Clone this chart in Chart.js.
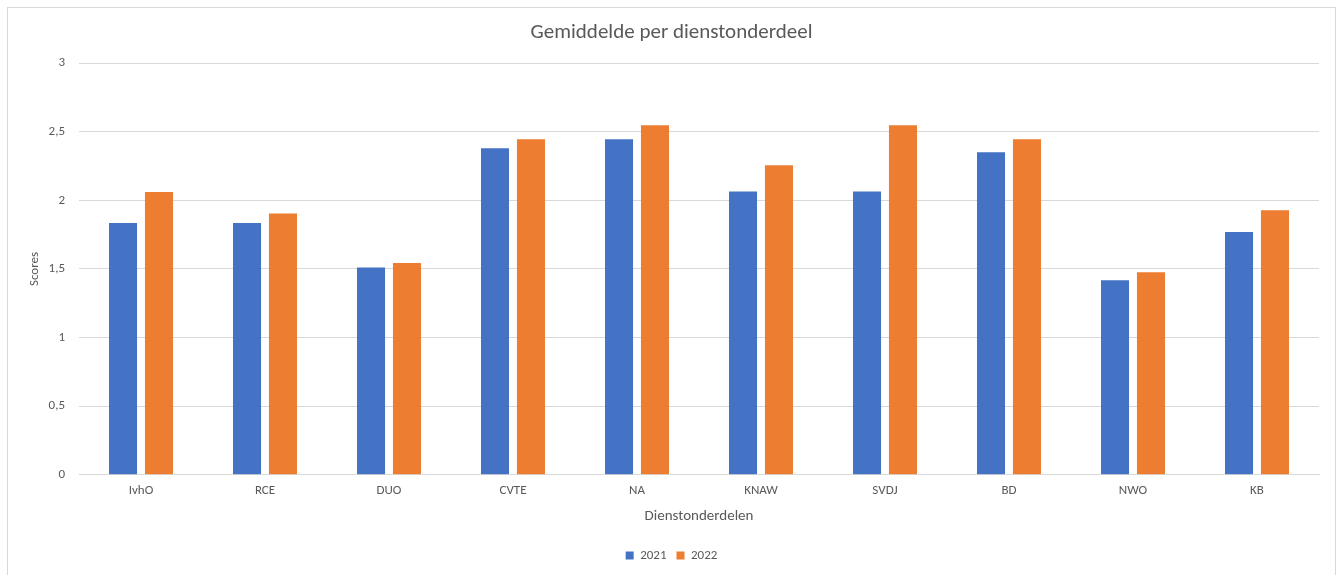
<!DOCTYPE html>
<html>
<head>
<meta charset="utf-8">
<script src="https://cdn.jsdelivr.net/npm/chart.js@4"></script>
<style>
  html, body { margin: 0; padding: 0; background: #ffffff; overflow: hidden; }
  #frame { position: absolute; left: 7px; top: 7px; width: 1327px; height: 580px; border: 1px solid #d9d9d9; border-bottom: none; }
  canvas { display: block; }
</style>
</head>
<body>
<div id="frame"><canvas id="c" width="1327" height="567" style="width:1327px;height:567px"></canvas></div>
<script>
const categories = ['IvhO', 'RCE', 'DUO', 'CVTE', 'NA', 'KNAW', 'SVDJ', 'BD', 'NWO', 'KB'];
const seriesNames = ['2021', '2022'];
const values2021 = [1.835, 1.835, 1.51, 2.38, 2.445, 2.064, 2.064, 2.35, 1.418, 1.77];
const values2022 = [2.061, 1.904, 1.544, 2.445, 2.547, 2.256, 2.547, 2.445, 1.476, 1.928];
const yTickValues = [0, 0.5, 1, 1.5, 2, 2.5, 3];
const yTickLabels = ['0', '0,5', '1', '1,5', '2', '2,5', '3'];
const titleText = 'Gemiddelde per dienstonderdeel';
const xTitle = 'Dienstonderdelen';
const yTitle = 'Scores';

const FONT = "Carlito, Lato, 'Liberation Sans', sans-serif";
const TXT = '#595959';
const GRID = '#d9d9d9';

Chart.defaults.font.family = FONT;
Chart.defaults.color = TXT;

new Chart(document.getElementById('c'), {
  type: 'bar',
  data: {
    labels: categories,
    datasets: [
      { label: seriesNames[0], data: values2021, backgroundColor: '#4472C4', borderWidth: 0 },
      { label: seriesNames[1], data: values2022, backgroundColor: '#ED7D31', borderWidth: 0 }
    ]
  },
  options: {
    responsive: false,
    animation: false,
    devicePixelRatio: 1,
    categoryPercentage: 0.58,
    barPercentage: 0.78,
    layout: { padding: { left: 0, right: 0, top: 0, bottom: 3 } },
    plugins: {
      title: {
        display: true,
        text: titleText,
        color: TXT,
        font: { size: 21, weight: 'normal', family: FONT },
        padding: { top: 12.5, bottom: 17.5 }
      },
      legend: {
        position: 'bottom',
        labels: {
          boxWidth: 8,
          boxHeight: 8,
          padding: 10,
          color: TXT,
          font: { size: 13, family: FONT }
        }
      },
      tooltip: { enabled: false }
    },
    scales: {
      x: {
        grid: { display: false, drawTicks: false },
        border: { display: true, color: GRID, width: 1 },
        ticks: { color: TXT, font: { size: 13 }, padding: 8, maxRotation: 0 },
        title: { display: true, text: xTitle, color: TXT, font: { size: 15 }, padding: { top: 14, bottom: 14 } },
        afterFit: (s) => { s.height = 64.3; }
      },
      y: {
        min: 0,
        max: 3,
        afterBuildTicks: (s) => { s.ticks = yTickValues.map(v => ({ value: v })); },
        grid: { color: GRID, lineWidth: 1, drawTicks: false },
        border: { display: false },
        ticks: {
          color: TXT,
          font: { size: 13 },
          padding: 14,
          callback: (v) => { const i = yTickValues.indexOf(v); return i >= 0 ? yTickLabels[i] : ''; }
        },
        title: { display: true, text: yTitle, color: TXT, font: { size: 13 }, padding: { top: 19, bottom: 19 } },
        afterFit: (s) => { s.width = 71; }
      },
      yRight: {
        position: 'right',
        display: true,
        min: 0,
        max: 3,
        grid: { display: false, drawTicks: false },
        border: { display: false },
        ticks: { display: false },
        afterFit: (s) => { s.width = 16; }
      }
    }
  }
});
</script>
</body>
</html>
